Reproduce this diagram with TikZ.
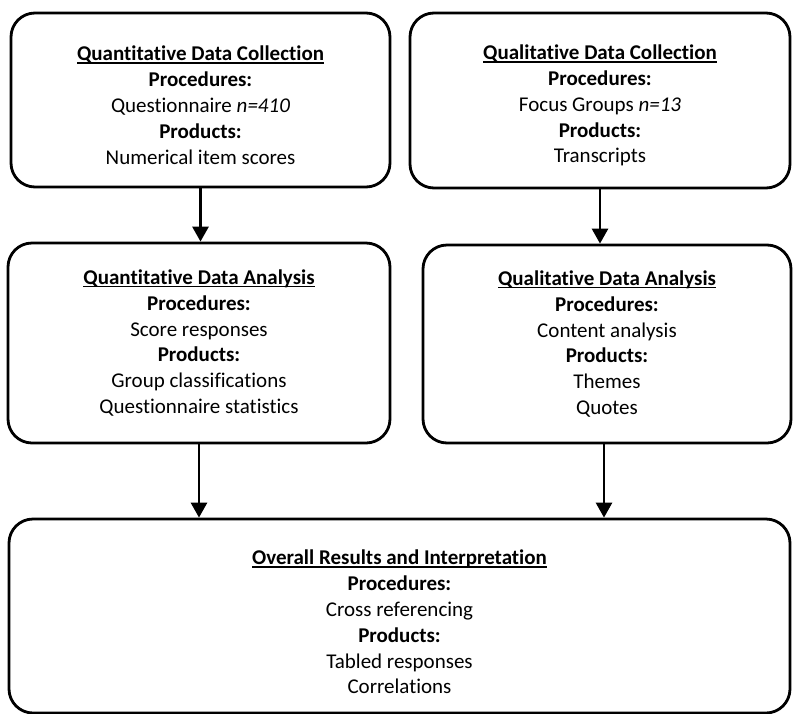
\documentclass[tikz,border=0pt]{standalone}
\usepackage{fontspec}
\setmainfont[Ligatures=NoCommon]{Carlito}
\usetikzlibrary{arrows.meta}

% underlined heading with a rule sitting just under the baseline
\newcommand{\boxhead}[1]{{\bfseries\setbox0\hbox{#1}\rlap{\rule[-2.8pt]{\wd0}{1.6pt}}\box0}}
% extra room above the heading to push the text block down a little
\newcommand{\headroom}[1]{\rule{0pt}{#1}}

\tikzset{
  stagebox/.style={draw=black, line width=2.8pt, rounded corners=24pt, fill=white,
    inner sep=0pt, align=center,
    font=\fontsize{21}{25.8}\selectfont},
  flow/.style={line width=2.8pt, -{Triangle[width=16pt,length=15pt]}},
}

\begin{document}
\begin{tikzpicture}[x=1pt, y=-1pt]
  \useasboundingbox (0,0) rectangle (793,713);

  \node[stagebox, minimum width=379pt, minimum height=174pt] (b1) at (200.5,100)
    {\headroom{25pt}\boxhead{Quantitative Data Collection}\\ \textbf{Procedures:}\\ Questionnaire \textit{n=410}\\ \textbf{Products:}\\ Numerical item scores};

  \node[stagebox, minimum width=380pt, minimum height=175pt] (b2) at (600,100.5)
    {\headroom{25pt}\boxhead{Qualitative Data Collection}\\ \textbf{Procedures:}\\ Focus Groups \textit{n=13}\\ \textbf{Products:}\\ Transcripts};

  \node[stagebox, minimum width=382pt, minimum height=200pt] (b3) at (199,343)
    {\boxhead{Quantitative Data Analysis}\\ \textbf{Procedures:}\\ Score responses\\ \textbf{Products:}\\ Group classifications\\ Questionnaire statistics};

  \node[stagebox, minimum width=368pt, minimum height=198pt] (b4) at (607,344)
    {\boxhead{Qualitative Data Analysis}\\ \textbf{Procedures:}\\ Content analysis\\ \textbf{Products:}\\ Themes\\ Quotes};

  \node[stagebox, minimum width=781pt, minimum height=194pt] (b5) at (399.5,616)
    {\headroom{27pt}\boxhead{Overall Results and Interpretation}\\ \textbf{Procedures:}\\ Cross referencing\\ \textbf{Products:}\\ Tabled responses\\ Correlations};

  % connectors
  \draw[flow] (b1.south) -- (b1.south |- b3.north);
  \draw[flow] (b2.south) -- (b2.south |- b4.north);
  \draw[flow] (b3.south) -- (b3.south |- b5.north);
  \draw[flow] ([xshift=-3pt]b4.south) -- ([xshift=-3pt]b4.south |- b5.north);
\end{tikzpicture}
\end{document}
